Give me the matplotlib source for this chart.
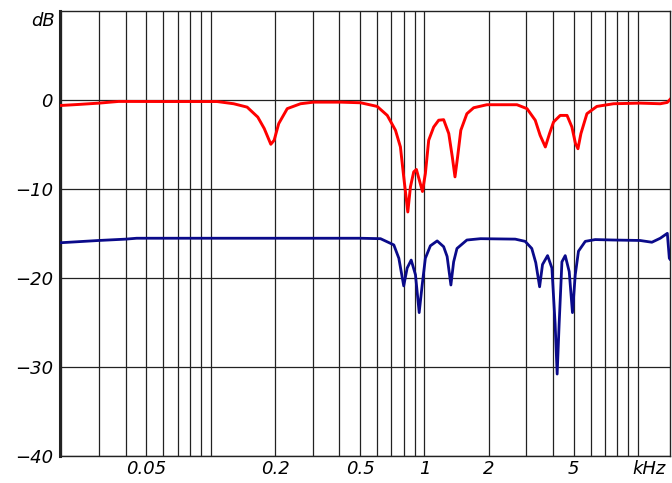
import numpy as np
import matplotlib
matplotlib.use("Agg")
import matplotlib.pyplot as plt
from matplotlib.ticker import FixedLocator, NullFormatter

# frequency in kHz, level in dB
red_f = [0.02, 0.024, 0.03, 0.037, 0.06, 0.107, 0.128, 0.148, 0.166, 0.178, 0.191,
         0.198, 0.208, 0.228, 0.263, 0.303, 0.405, 0.503, 0.601, 0.67, 0.732,
         0.772, 0.80, 0.836, 0.86, 0.891, 0.917, 0.951, 0.979, 1.01, 1.047,
         1.105, 1.166, 1.23, 1.30, 1.35, 1.39, 1.43, 1.48, 1.58, 1.70, 1.96,
         2.71, 3.02, 3.30, 3.48, 3.68, 3.85, 4.02, 4.32, 4.65, 4.90, 5.09,
         5.23, 5.40, 5.76, 6.41, 7.67, 10.2, 12.7, 13.7, 14.1]
red_db = [-0.64, -0.53, -0.38, -0.19, -0.2, -0.2, -0.45, -0.83, -1.95, -3.24, -5.0,
          -4.55, -2.68, -1.0, -0.45, -0.27, -0.27, -0.34, -0.75, -1.76, -3.43,
          -5.3, -8.66, -12.6, -9.78, -8.1, -7.83, -9.2, -10.3, -8.3, -4.55,
          -3.06, -2.3, -2.24, -3.8, -6.4, -8.66, -6.4, -3.43, -1.57, -0.9, -0.56,
          -0.56, -1.0, -2.3, -4.0, -5.3, -3.8, -2.5, -1.76, -1.76, -3.06, -4.9,
          -5.5, -3.8, -1.57, -0.75, -0.45, -0.38, -0.45, -0.3, 0.03]

blue_f = [0.02, 0.03, 0.04, 0.045, 0.1, 0.5, 0.623, 0.719, 0.759, 0.80, 0.830,
          0.867, 0.908, 0.945, 0.976, 1.01, 1.066, 1.147, 1.23, 1.277, 1.33,
          1.37, 1.42, 1.58, 1.83, 2.66, 2.96, 3.18, 3.32, 3.46, 3.57, 3.77,
          3.95, 4.09, 4.18, 4.27, 4.40, 4.56, 4.76, 4.93, 5.08, 5.26, 5.66,
          6.3, 7.67, 10.2, 11.6, 12.7, 13.7, 14.0, 14.1]
blue_db = [-16.05, -15.8, -15.65, -15.55, -15.55, -15.55, -15.6, -16.3, -17.8, -20.9, -18.9,
           -18.0, -19.65, -23.9, -20.8, -17.8, -16.4, -15.85, -16.5, -17.6, -20.8,
           -18.2, -16.7, -15.75, -15.6, -15.65, -15.9, -16.7, -18.3, -21.0, -18.5, -17.5,
           -18.9, -25.2, -30.8, -25.2, -18.2, -17.5, -19.3, -23.9, -19.65, -17.0, -15.9,
           -15.7, -15.75, -15.8, -16.0, -15.55, -15.0, -17.8, -17.9]

x_labels = [0.05, 0.2, 0.5, 1, 2, 5]
x_label_text = ["0.05", "0.2", "0.5", "1", "2", "5"]
y_ticks = [0, -10, -20, -30, -40]

fnt = dict(family="DejaVu Sans", style="italic", size=13)

fig = plt.figure(figsize=(6.72, 4.83), dpi=100)
ax = fig.add_axes([0.0893, 0.0559, 0.9077, 0.922])

ax.plot(red_f, red_db, color="#ff0000", lw=2.1, zorder=3)
ax.plot(blue_f, blue_db, color="#0a0a8a", lw=2.0, zorder=3)

ax.set_xscale("log")
ax.set_xlim(0.0197, 14.1)
ax.set_ylim(-40, 10)

grid_f = [m * 10.0 ** e for e in (-2, -1, 0, 1) for m in range(1, 10)]
grid_f = [g for g in grid_f if 0.02 <= g <= 14]
ax.xaxis.set_major_locator(FixedLocator(x_labels))
ax.xaxis.set_minor_locator(FixedLocator(grid_f))
ax.xaxis.set_minor_formatter(NullFormatter())
ax.set_xticklabels(x_label_text, **fnt)
ax.set_yticks(y_ticks)
ax.set_yticklabels(["0", "\u221210", "\u221220", "\u221230", "\u221240"], **fnt)
ax.tick_params(which="both", length=0)
ax.tick_params(axis="x", pad=3)
ax.tick_params(axis="y", pad=5)

ax.grid(True, which="both", axis="x", color="#222222", lw=0.9)
ax.grid(True, which="major", axis="y", color="#222222", lw=0.9)

for s in ax.spines.values():
    s.set_color("#222222")
    s.set_linewidth(1.0)
ax.spines["left"].set_linewidth(2.2)

ax.text(-0.008, 8.8, "dB", transform=ax.get_yaxis_transform(),
        ha="right", va="center", **fnt)
ax.text(11.3, -41.5, "kHz", ha="center", va="center", **fnt)

fig.savefig("out.png", dpi=100)
